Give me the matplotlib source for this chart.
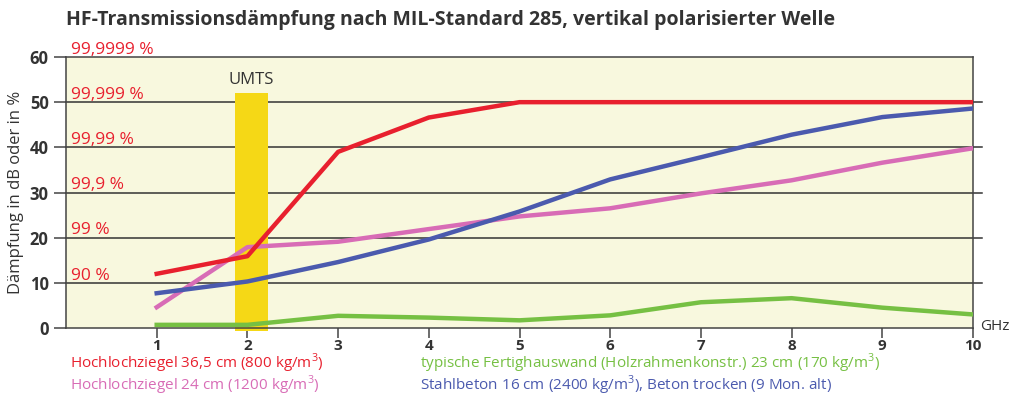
import matplotlib.pyplot as plt

freq = [1, 2, 3, 4, 5, 6, 7, 8, 9, 10]
ziegel_365 = [12.0, 15.9, 39.0, 46.6, 50.0, 50.0, 50.0, 50.0, 50.0, 50.0]
ziegel_24 = [4.6, 17.9, 19.1, 21.9, 24.7, 26.5, 29.8, 32.7, 36.6, 39.8]
stahlbeton = [7.7, 10.3, 14.6, 19.6, 25.8, 32.9, 37.8, 42.8, 46.7, 48.6]
fertighaus = [0.7, 0.7, 2.7, 2.3, 1.7, 2.8, 5.7, 6.6, 4.5, 3.0]
umts_band = (1.86, 2.23)
umts_top = 52
prozent = ['90 %', '99 %', '99,9 %', '99,99 %', '99,999 %', '99,9999 %']
prozent_db = [10, 20, 30, 40, 50, 60]

plt.rcParams['font.family'] = ['Open Sans', 'DejaVu Sans']
plt.rcParams['mathtext.fontset'] = 'custom'
plt.rcParams['mathtext.rm'] = 'Open Sans'

c_red = '#e8202e'
c_pink = '#d86cb6'
c_blue = '#4b5aae'
c_green = '#76c043'
c_text = '#333333'

fig = plt.figure(figsize=(10.13, 3.96), dpi=100)
ax = fig.add_axes([66 / 1013, 1 - 328 / 396, 907 / 1013, 271 / 396])
ax.set_facecolor('#f8f8de')
ax.set_xlim(0, 10)
ax.set_ylim(0, 60)

# Gitterlinien ragen rechts etwas über den Rahmen hinaus
for y in [10, 20, 30, 40, 50]:
    ax.plot([0, 10.1], [y, y], color='#333333', lw=1.1, clip_on=False, zorder=1)

ax.fill_between(umts_band, [-0.6, -0.6], [umts_top, umts_top], color='#f5d816',
                lw=0, zorder=2, clip_on=False)
ax.text(sum(umts_band) / 2, 55, 'UMTS', ha='center', va='center',
        fontsize=12, color=c_text)

lw = 3.2
ax.plot(freq, fertighaus, color=c_green, lw=lw, zorder=3)
ax.plot(freq, ziegel_24, color=c_pink, lw=lw, zorder=3)
ax.plot(freq, stahlbeton, color=c_blue, lw=lw, zorder=4)
ax.plot(freq, ziegel_365, color=c_red, lw=lw, zorder=5)

for lab, y in zip(prozent, prozent_db):
    ax.text(0.05, y + 1.6, lab, color=c_red, fontsize=12.5, va='center', ha='left',
            clip_on=False)

for s in ax.spines.values():
    s.set_color('#444444')
    s.set_linewidth(1.1)

ax.set_xticks(freq)
ax.set_yticks(range(0, 61, 10))
ax.tick_params(axis='both', direction='out', width=1.1, color='#444444',
               labelcolor=c_text)
ax.tick_params(axis='y', length=9, labelsize=12)
ax.tick_params(axis='x', length=7, labelsize=11, pad=1)
for t in ax.get_xticklabels() + ax.get_yticklabels():
    t.set_fontweight('bold')
ax.set_ylabel('Dämpfung in dB oder in %', fontsize=12, color=c_text, labelpad=4)

fig.text(980 / 1013, 1 - 327 / 396, 'GHz', fontsize=11, color=c_text, va='center')
fig.text(66 / 1013, 1 - 20 / 396,
         'HF-Transmissionsdämpfung nach MIL-Standard 285, vertikal polarisierter Welle',
         fontsize=14, fontweight='bold', color=c_text, va='center')

leg = [
    (70, 363, 'Hochlochziegel 36,5 cm (800 kg/m$^3$)', c_red),
    (70, 385, 'Hochlochziegel 24 cm (1200 kg/m$^3$)', c_pink),
    (420, 363, 'typische Fertighauswand (Holzrahmenkonstr.) 23 cm (170 kg/m$^3$)', c_green),
    (420, 385, 'Stahlbeton 16 cm (2400 kg/m$^3$), Beton trocken (9 Mon. alt)', c_blue),
]
for x, y, s, c in leg:
    fig.text(x / 1013, 1 - y / 396, s, fontsize=11, color=c, va='center')

fig.savefig('out.png', dpi=100)
